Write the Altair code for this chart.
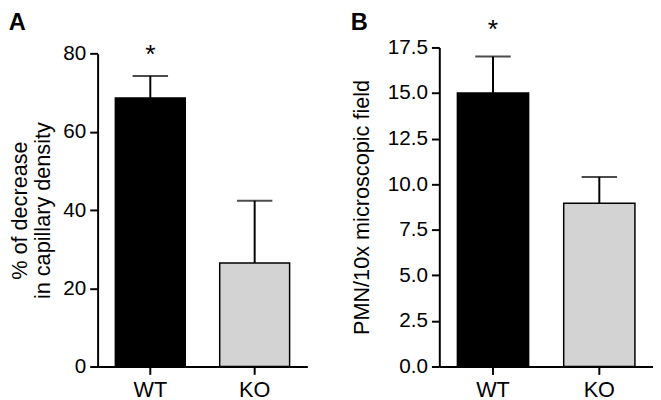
import altair as alt
import pandas as pd

groups = ["WT", "KO"]
a_means = [68.7, 26.5]
a_upper = [74.3, 42.4]
b_means = [15.0, 8.95]
b_upper = [17.0, 10.4]
stars = ["*", ""]
a_ticks = [0, 20, 40, 60, 80]
b_ticks = [0, 2.5, 5, 7.5, 10, 12.5, 15, 17.5]
fill_colors = ["#000000", "#d3d3d3"]
a_title = ["% of decrease", "in capillary density"]
b_title = "PMN/10x microscopic field"

FONT = "Liberation Sans"


def panel(means, upper, ydomain, yrange, ticks, fmt, ytitle, label, label_offset,
          star_dy, width, title_pad):
    df = pd.DataFrame({"group": groups, "mean": means, "upper": upper, "star": stars})
    xenc = alt.X(
        "group:N", sort=groups,
        scale=alt.Scale(paddingInner=0.33, paddingOuter=0.17),
        axis=alt.Axis(title=None, labelAngle=0, labelFontSize=22, labelPadding=5),
    )
    yscale = alt.Scale(domain=ydomain, range=yrange, nice=False, zero=True)
    base = alt.Chart(df)
    bars = base.mark_bar(stroke="black", strokeWidth=1.5).encode(
        x=xenc,
        y=alt.Y("mean:Q", scale=yscale,
                axis=alt.Axis(values=ticks, format=fmt, title=ytitle,
                              labelFontSize=21, titleFontSize=22,
                              titleFontWeight="normal", titlePadding=title_pad,
                              titleLineHeight=24, labelPadding=4)),
        color=alt.Color("group:N", scale=alt.Scale(domain=groups, range=fill_colors),
                        legend=None),
    )
    err = base.mark_rule(color="black", strokeWidth=2).encode(
        x=alt.X("group:N", sort=groups), y="mean:Q", y2="upper:Q"
    )
    cap = base.mark_tick(color="black", thickness=2, size=36).encode(
        x=alt.X("group:N", sort=groups), y="upper:Q"
    )
    star = base.mark_text(fontSize=27, font=FONT, dy=star_dy, baseline="middle",
                          color="black").encode(
        x=alt.X("group:N", sort=groups), y="upper:Q", text="star:N"
    )
    return alt.layer(bars, err, cap, star).properties(
        width=width, height=324,
        title=alt.TitleParams(label, anchor="start", frame="bounds", offset=label_offset,
                              fontSize=24, fontWeight="bold", font=FONT, color="black"),
    )


pa = panel(a_means, a_upper, [0, 80], [324, 6.4], a_ticks, "d", a_title, "A", 6.7,
           -21, 213, 8)
pb = panel(b_means, b_upper, [0, 17.5], [324, 0], b_ticks, ".1f", b_title, "B", -19,
           -27, 217, 14)

chart = alt.hconcat(pa, pb, spacing=134, bounds="flush").properties(
    padding={"left": 0, "top": 0, "right": 0, "bottom": 0}
).configure_axis(
    domainColor="black", tickColor="black", labelColor="black", titleColor="black",
    labelFont=FONT, titleFont=FONT, grid=False, domainWidth=2, tickWidth=2, tickSize=8,
).configure_view(stroke=None)

chart.save("out.html", embed_options={"renderer": "svg", "actions": False})
